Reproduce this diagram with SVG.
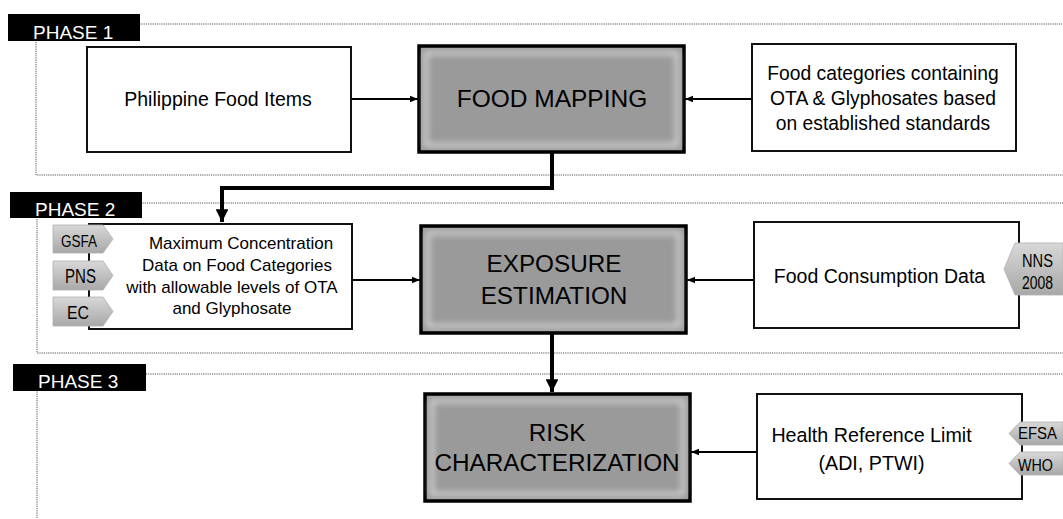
<svg xmlns="http://www.w3.org/2000/svg" width="1063" height="519" viewBox="0 0 1063 519">
<defs>
<style>
.t{font-family:"Liberation Sans",Arial,sans-serif;fill:#000;text-anchor:middle}
.box{fill:#fff;stroke:#111;stroke-width:2}
.main{fill:#9a9a9a;stroke:#000;stroke-width:3.5}
.dot{fill:none;stroke:#555;stroke-width:1;stroke-dasharray:1.2 1}
.lbl{fill:#000}
.lt{font-family:"Liberation Sans",Arial,sans-serif;fill:#fff;font-size:19px}
.tag{fill:url(#tg);stroke:#b0b0b0;stroke-width:0.8}
.tt{font-family:"Liberation Sans",Arial,sans-serif;fill:#000;text-anchor:middle}
.c{fill:none;stroke:#000}
</style>
<linearGradient id="tg" x1="0" y1="0" x2="0" y2="1">
<stop offset="0" stop-color="#d8d8d8"/><stop offset="1" stop-color="#a8a8a8"/>
</linearGradient>
<marker id="sa" viewBox="0 0 10 10" refX="10" refY="5" markerWidth="4" markerHeight="4" orient="auto" markerUnits="strokeWidth"><path d="M0,1 L10,5 L0,9 z" fill="#000"/></marker>
<marker id="la" viewBox="0 0 10 10" refX="10" refY="5" markerWidth="3.2" markerHeight="3.2" orient="auto" markerUnits="strokeWidth"><path d="M0,0 L10,5 L0,10 z" fill="#000"/></marker>
<filter id="glow" x="-5%" y="-5%" width="110%" height="110%"><feGaussianBlur stdDeviation="3"/></filter>
</defs>
<rect width="1063" height="519" fill="#fff"/>

<g id="phase1">
<rect class="dot" x="36" y="24" width="1040" height="151"/>
<rect class="lbl" x="8" y="14" width="132" height="27"/>
<text class="lt" x="33" y="39">PHASE 1</text>
</g>
<g id="phase2">
<rect class="dot" x="37" y="203" width="1040" height="150"/>
<rect class="lbl" x="10" y="192" width="132" height="26"/>
<text class="lt" x="35" y="216">PHASE 2</text>
</g>
<g id="phase3">
<path class="dot" d="M37,540 V374 H1063"/>
<rect class="lbl" x="13" y="364" width="133" height="27"/>
<text class="lt" x="38" y="388">PHASE 3</text>
</g>

<g id="connectors">
<line class="c" x1="351" y1="99" x2="418" y2="99" stroke-width="2" marker-end="url(#sa)"/>
<line class="c" x1="752" y1="99" x2="685" y2="99" stroke-width="2" marker-end="url(#sa)"/>
<path class="c" d="M552,152 V188 H222 V222" stroke-width="4" marker-end="url(#la)"/>
<line class="c" x1="352" y1="280" x2="420" y2="280" stroke-width="2" marker-end="url(#sa)"/>
<line class="c" x1="754" y1="280" x2="687" y2="280" stroke-width="2" marker-end="url(#sa)"/>
<line class="c" x1="552" y1="333" x2="552" y2="392" stroke-width="4" marker-end="url(#la)"/>
<line class="c" x1="757" y1="452" x2="691" y2="452" stroke-width="2" marker-end="url(#sa)"/>
</g>

<g id="philippine">
<rect class="box" x="87" y="47" width="264" height="105"/>
<text class="t" x="218" y="106" font-size="19.5">Philippine Food Items</text>
</g>

<g id="foodmapping">
<rect class="main" x="419" y="46" width="265" height="106"/>
<rect x="426" y="53" width="251" height="92" fill="none" stroke="#e8e8e8" stroke-width="3" filter="url(#glow)"/>
<text class="t" x="552" y="107" font-size="24.5">FOOD MAPPING</text>
</g>

<g id="foodcategories">
<rect class="box" x="752" y="44" width="264" height="107"/>
<text class="t" x="883" y="80" font-size="19.3">Food categories containing</text>
<text class="t" x="883" y="105" font-size="19.3">OTA &amp; Glyphosates based</text>
<text class="t" x="883" y="130" font-size="19.3">on established standards</text>
</g>

<g id="maxconc">
<rect class="box" x="89" y="224" width="263" height="105"/>
<text class="t" x="241" y="249" font-size="17">Maximum Concentration</text>
<text class="t" x="237" y="271" font-size="17">Data on Food  Categories</text>
<text class="t" x="232" y="293" font-size="17">with allowable levels of OTA</text>
<text class="t" x="232" y="314" font-size="17">and  Glyphosate</text>
</g>

<g id="tag-gsfa">
<polygon class="tag" points="53,225 103,225 113,239 103,253 53,253"/>
<text class="tt" x="79" y="247" font-size="16.5" textLength="36" lengthAdjust="spacingAndGlyphs">GSFA</text>
</g>
<g id="tag-pns">
<polygon class="tag" points="53,261 103,261 113,275.5 103,290 53,290"/>
<text class="tt" x="80.5" y="283" font-size="19.5" textLength="31" lengthAdjust="spacingAndGlyphs">PNS</text>
</g>
<g id="tag-ec">
<polygon class="tag" points="53,297 103,297 113,311.5 103,326 53,326"/>
<text class="tt" x="78" y="319" font-size="19" textLength="22" lengthAdjust="spacingAndGlyphs">EC</text>
</g>

<g id="exposure">
<rect class="main" x="421" y="226" width="265" height="107"/>
<rect x="428" y="233" width="251" height="93" fill="none" stroke="#e8e8e8" stroke-width="3" filter="url(#glow)"/>
<text class="t" x="554" y="272" font-size="24.3">EXPOSURE</text>
<text class="t" x="554" y="304" font-size="24.3">ESTIMATION</text>
</g>

<g id="consumption">
<rect class="box" x="754" y="222" width="265" height="106"/>
<text class="t" x="879.5" y="283" font-size="19.5">Food Consumption Data</text>
</g>

<g id="tag-nns">
<polygon class="tag" points="1063,243 1015,243 1004,269 1015,295 1063,295"/>
<text class="tt" x="1037.5" y="267" font-size="18" textLength="31" lengthAdjust="spacingAndGlyphs">NNS</text>
<text class="tt" x="1037.5" y="289" font-size="18" textLength="31" lengthAdjust="spacingAndGlyphs">2008</text>
</g>

<g id="risk">
<rect class="main" x="425" y="394" width="265" height="107"/>
<rect x="432" y="401" width="251" height="93" fill="none" stroke="#e8e8e8" stroke-width="3" filter="url(#glow)"/>
<text class="t" x="557" y="441" font-size="24.3">RISK</text>
<text class="t" x="557" y="471" font-size="24.3">CHARACTERIZATION</text>
</g>

<g id="health">
<rect class="box" x="757" y="394" width="265" height="105"/>
<text class="t" x="871.5" y="442" font-size="19.7">Health Reference Limit</text>
<text class="t" x="871.5" y="470" font-size="19.7">(ADI, PTWI)</text>
</g>

<g id="tag-efsa">
<polygon class="tag" points="1063,422 1020,422 1009,433.5 1020,445 1063,445"/>
<text class="tt" x="1037.5" y="439" font-size="16.5" textLength="39" lengthAdjust="spacingAndGlyphs">EFSA</text>
</g>
<g id="tag-who">
<polygon class="tag" points="1063,452 1020,452 1009,463.5 1020,475 1063,475"/>
<text class="tt" x="1035.5" y="471" font-size="17" textLength="35" lengthAdjust="spacingAndGlyphs">WHO</text>
</g>
</svg>
